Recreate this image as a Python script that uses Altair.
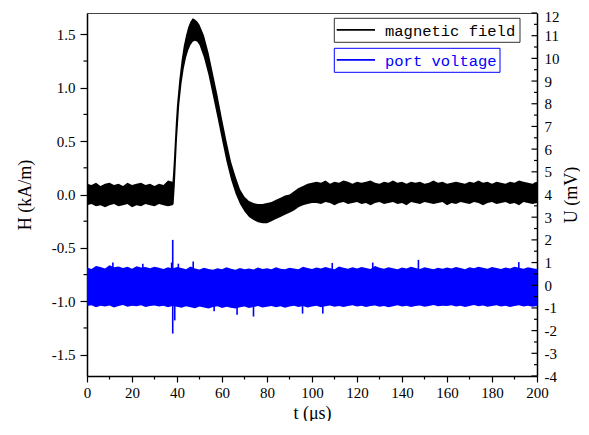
import altair as alt
import pandas as pd

# ---------------- data ----------------
# magnetic field band (kA/m): sampled times, upper and lower envelope of the noisy trace
t_H = ([0, 2, 4, 6, 8, 10, 12, 14, 16, 18, 20, 22, 24, 26, 28, 30, 32, 34, 36, 38,
        38.5, 39, 39.5, 40, 41, 42, 43, 44, 45, 46, 47, 48, 49, 50]
       + list(range(52, 101, 2)) + list(range(102, 201, 2)))
H_hi = ([0.10, 0.09, 0.11, 0.08, 0.10, 0.11, 0.09, 0.10, 0.08, 0.11,
         0.09, 0.10, 0.11, 0.09, 0.10, 0.08, 0.10, 0.09, 0.13, 0.12,
         0.28, 0.48, 0.68, 0.84, 1.07, 1.25, 1.39, 1.49, 1.57, 1.62, 1.65, 1.64, 1.62, 1.59,
         1.49, 1.33, 1.13, 0.93, 0.71, 0.50, 0.31, 0.17, 0.05, -0.02,
         -0.06, -0.08, -0.09, -0.09, -0.08, -0.07, -0.05, -0.03, -0.01, 0.00,
         0.03, 0.06, 0.08, 0.10, 0.11,
         0.12, 0.11, 0.13, 0.10, 0.12, 0.11, 0.13, 0.12, 0.10, 0.12,
         0.11, 0.12, 0.13, 0.11, 0.10, 0.12, 0.11, 0.13, 0.11, 0.12,
         0.10, 0.12, 0.11, 0.12, 0.10, 0.11, 0.13, 0.11, 0.12, 0.10,
         0.11, 0.12, 0.11, 0.10, 0.12, 0.11, 0.13, 0.11, 0.12, 0.10,
         0.12, 0.11, 0.10, 0.12, 0.11, 0.13, 0.12, 0.11, 0.10, 0.12])
H_lo = ([-0.10, -0.09, -0.11, -0.10, -0.12, -0.10, -0.09, -0.11, -0.10, -0.09,
         -0.12, -0.10, -0.11, -0.09, -0.10, -0.11, -0.09, -0.10, -0.11, -0.10,
         -0.09, 0.08, 0.30, 0.52, 0.84, 1.04, 1.18, 1.28, 1.35, 1.40, 1.43, 1.44, 1.43, 1.40,
         1.28, 1.12, 0.92, 0.72, 0.51, 0.31, 0.14, 0.01, -0.09, -0.16,
         -0.21, -0.24, -0.26, -0.27, -0.27, -0.25, -0.23, -0.21, -0.19, -0.17,
         -0.15, -0.12, -0.10, -0.09, -0.08,
         -0.08, -0.09, -0.07, -0.08, -0.10, -0.08, -0.07, -0.09, -0.08, -0.07,
         -0.09, -0.08, -0.10, -0.08, -0.07, -0.09, -0.08, -0.07, -0.09, -0.08,
         -0.10, -0.07, -0.08, -0.09, -0.07, -0.08, -0.09, -0.08, -0.07, -0.10,
         -0.08, -0.09, -0.07, -0.08, -0.09, -0.07, -0.08, -0.10, -0.08, -0.07,
         -0.09, -0.08, -0.07, -0.09, -0.08, -0.10, -0.07, -0.08, -0.09, -0.08])

# port voltage band (mV): sampled times, upper and lower envelope
t_U = list(range(0, 201, 2))
U_hi = [0.78, 0.72, 0.85, 0.80, 0.74, 0.88, 0.79, 0.83, 0.76, 0.81,
        0.73, 0.84, 0.78, 0.80, 0.75, 0.82, 0.77, 0.72, 0.79, 0.74,
        0.80, 0.76, 0.71, 0.83, 0.74, 0.69, 0.77, 0.72, 0.68, 0.75,
        0.70, 0.79, 0.73, 0.68, 0.76, 0.71, 0.74, 0.69, 0.78, 0.72,
        0.75, 0.70, 0.79, 0.73, 0.71, 0.77, 0.74, 0.70, 0.81, 0.76,
        0.72, 0.78, 0.74, 0.80, 0.75, 0.71, 0.83, 0.77, 0.73, 0.79,
        0.74, 0.80, 0.76, 0.72, 0.85, 0.77, 0.73, 0.79, 0.75, 0.71,
        0.78, 0.74, 0.81, 0.76, 0.72, 0.79, 0.75, 0.70, 0.77, 0.73,
        0.78, 0.74, 0.80, 0.76, 0.71, 0.79, 0.75, 0.82, 0.77, 0.73,
        0.80, 0.76, 0.72, 0.78, 0.74, 0.81, 0.77, 0.73, 0.79, 0.75, 0.72]
U_lo = [-0.92, -0.88, -0.97, -0.90, -0.94, -0.89, -0.98, -0.91, -0.87, -0.95,
        -0.90, -0.93, -0.88, -0.96, -0.91, -0.89, -0.94, -0.90, -0.97, -0.92,
        -0.95, -0.99, -0.93, -0.97, -1.01, -0.94, -0.98, -1.02, -0.96, -0.93,
        -1.00, -0.95, -0.99, -1.03, -0.97, -0.94, -1.00, -0.96, -0.92, -0.98,
        -0.95, -0.91, -0.97, -0.93, -0.99, -0.94, -0.90, -0.96, -0.92, -0.98,
        -0.94, -0.90, -0.97, -0.93, -0.89, -0.95, -0.91, -0.96, -0.92, -0.88,
        -0.94, -0.90, -0.96, -0.92, -0.89, -0.95, -0.91, -0.97, -0.93, -0.88,
        -0.94, -0.90, -0.96, -0.92, -0.89, -0.95, -0.91, -0.87, -0.93, -0.90,
        -0.92, -0.88, -0.94, -0.90, -0.96, -0.91, -0.87, -0.93, -0.89, -0.95,
        -0.91, -0.88, -0.94, -0.90, -0.96, -0.92, -0.88, -0.94, -0.90, -0.95, -0.91]

# isolated spikes in the port voltage trace (time, low end, high end), mV
spike_t = [38.1, 37.6, 40.6, 47.2, 11.5, 24.8, 109.0, 127.0, 147.3, 191.9,
           39.0, 66.7, 74.0, 95.8, 104.8, 56.5]
spike_lo = [-2.13, -0.5, 0, 0, 0, 0, 0, 0, 0, 0,
            -1.55, -1.30, -1.38, -1.25, -1.25, -1.15]
spike_hi = [2.00, 1.00, 0.95, 1.05, 1.00, 0.95, 0.98, 1.00, 1.12, 1.02,
            0, 0, 0, 0, 0, 0]

x_major = [0, 20, 40, 60, 80, 100, 120, 140, 160, 180, 200]
x_minor = [10, 30, 50, 70, 90, 110, 130, 150, 170, 190]
H_major = [-1.5, -1.0, -0.5, 0.0, 0.5, 1.0, 1.5]
H_minor = [-1.25, -0.75, -0.25, 0.25, 0.75, 1.25]
U_major = [-4, -3, -2, -1, 0, 1, 2, 3, 4, 5, 6, 7, 8, 9, 10, 11, 12]
U_minor = [-3.5, -2.5, -1.5, -0.5, 0.5, 1.5, 2.5, 3.5, 4.5, 5.5, 6.5, 7.5, 8.5, 9.5, 10.5, 11.5]

legend_labels = ["magnetic field", "port voltage"]
legend_colors = ["black", "#0000ff"]

# ---------------- chart ----------------
W, H = 450, 363
SERIF = "Liberation Serif"
MONO = "Liberation Mono"

dfH = pd.DataFrame({"t": t_H, "hi": H_hi, "lo": H_lo})
dfU = pd.DataFrame({"t": t_U, "hi": U_hi, "lo": U_lo})
dfS = pd.DataFrame({"t": spike_t, "lo": spike_lo, "hi": spike_hi})

xscale = alt.Scale(domain=[0, 200], nice=False, zero=False)
Hscale = alt.Scale(domain=[-1.7, 1.7], nice=False, zero=False)
Uscale = alt.Scale(domain=[-4, 12], nice=False, zero=False)

x_axis = alt.Axis(values=x_major, title="t (μs)", grid=False, tickSize=6, tickWidth=1.2,
                  tickColor="black", domainColor="black", domainWidth=1.5,
                  labelFont=SERIF, labelFontSize=15, labelColor="black", labelPadding=3,
                  labelFlush=False, labelOverlap=False,
                  titleFont=SERIF, titleFontSize=18, titleFontWeight="normal", titleColor="black",
                  titleY=42, titleBaseline="alphabetic")
H_axis = alt.Axis(values=H_major, orient="left", title="H (kA/m)", grid=False, tickSize=7,
                  tickWidth=1.2, tickColor="black", domainColor="black", domainWidth=1.5,
                  labelFont=SERIF, labelFontSize=15, labelColor="black", labelPadding=5,
                  labelExpr="(datum.value < 0 ? '-' : '') + format(abs(datum.value), '.1f')",
                  titleFont=SERIF, titleFontSize=18, titleFontWeight="normal", titleColor="black",
                  titleAngle=270, titleX=-62, titleY=H / 2, titleAlign="center",
                  titleBaseline="middle")
U_axis = alt.Axis(values=U_major, orient="right", title="U (mV)", grid=False, ticks=False,
                  tickSize=0, domainColor="black", domainWidth=1.5,
                  labelFont=SERIF, labelFontSize=15, labelColor="black", labelPadding=7,
                  labelAlign="left",
                  labelOffset={"condition": {"test": "datum.value == 12", "value": 3}, "value": 0},
                  labelExpr="(datum.value < 0 ? '-' : '') + format(abs(datum.value), 'd')",
                  titleFont=SERIF, titleFontSize=18, titleFontWeight="normal", titleColor="black",
                  titleAngle=270, titleX=34, titleY=H / 2, titleAlign="center",
                  titleBaseline="middle")

X = alt.X("t:Q", scale=xscale, axis=x_axis, title="t (μs)")

band_H = alt.Chart(dfH).mark_area(color="black", opacity=1).encode(
    x=X,
    y=alt.Y("hi:Q", scale=Hscale, axis=H_axis, title="H (kA/m)"),
    y2="lo:Q",
)
H_minor_ticks = alt.Chart(pd.DataFrame({"v": H_minor})).mark_rule(
    color="black", strokeWidth=1.2).encode(
    y=alt.Y("v:Q", scale=Hscale, axis=H_axis, title="H (kA/m)"),
    x=alt.value(-3.5), x2=alt.value(0),
)
x_minor_ticks = alt.Chart(pd.DataFrame({"t": x_minor})).mark_rule(
    color="black", strokeWidth=1.2).encode(
    x=X,
    y=alt.value(H), y2=alt.value(H + 3.5),
)
left = alt.layer(band_H, H_minor_ticks, x_minor_ticks)

band_U = alt.Chart(dfU).mark_area(color="#0000ff", opacity=1).encode(
    x=X,
    y=alt.Y("hi:Q", scale=Uscale, axis=U_axis, title="U (mV)"),
    y2="lo:Q",
)
spikes = alt.Chart(dfS).mark_rule(color="#0000ff", strokeWidth=1.6).encode(
    x=X,
    y=alt.Y("hi:Q", scale=Uscale, axis=U_axis, title="U (mV)"),
    y2="lo:Q",
)
U_major_ticks = alt.Chart(pd.DataFrame({"v": U_major})).mark_rule(
    color="black", strokeWidth=1.2).encode(
    y=alt.Y("v:Q", scale=Uscale, axis=U_axis, title="U (mV)"),
    x=alt.value(W - 5.5), x2=alt.value(W),
)
U_minor_ticks = alt.Chart(pd.DataFrame({"v": U_minor})).mark_rule(
    color="black", strokeWidth=1.2).encode(
    y=alt.Y("v:Q", scale=Uscale, axis=U_axis, title="U (mV)"),
    x=alt.value(W - 3), x2=alt.value(W),
)
right = alt.layer(band_U, spikes, U_major_ticks, U_minor_ticks)

# legend: two separately framed entries
box_right = [433, 413]
box_top = [5.3, 35.3]
legend_layers = []
for i, (lab, col) in enumerate(zip(legend_labels, legend_colors)):
    d = pd.DataFrame({"label": [lab]})
    frame_col = "#333333" if i == 0 else col
    yb = box_top[i]
    legend_layers.append(alt.Chart(d).mark_rect(
        fill="white", stroke=frame_col, strokeWidth=1).encode(
        x=alt.value(247.3), x2=alt.value(box_right[i]),
        y=alt.value(yb), y2=alt.value(yb + 24)))
    legend_layers.append(alt.Chart(d).mark_rule(color=col, strokeWidth=1.8).encode(
        x=alt.value(249.7), x2=alt.value(288),
        y=alt.value(yb + 11.5)))
    legend_layers.append(alt.Chart(d).mark_text(
        align="left", baseline="middle", font=MONO, fontSize=15.5, color=col).encode(
        x=alt.value(298), y=alt.value(yb + 12.5), text="label:N"))
legend = alt.layer(*legend_layers)

chart = alt.layer(left, right, legend).resolve_scale(y="independent").properties(
    width=W, height=H,
    padding={"left": 79, "top": 5, "right": 43, "bottom": 45},
    autosize=alt.AutoSizeParams(type="none"),
).configure_view(stroke="#444444", strokeWidth=1)

chart.save("out.html", embed_options={"renderer": "svg", "actions": False})
